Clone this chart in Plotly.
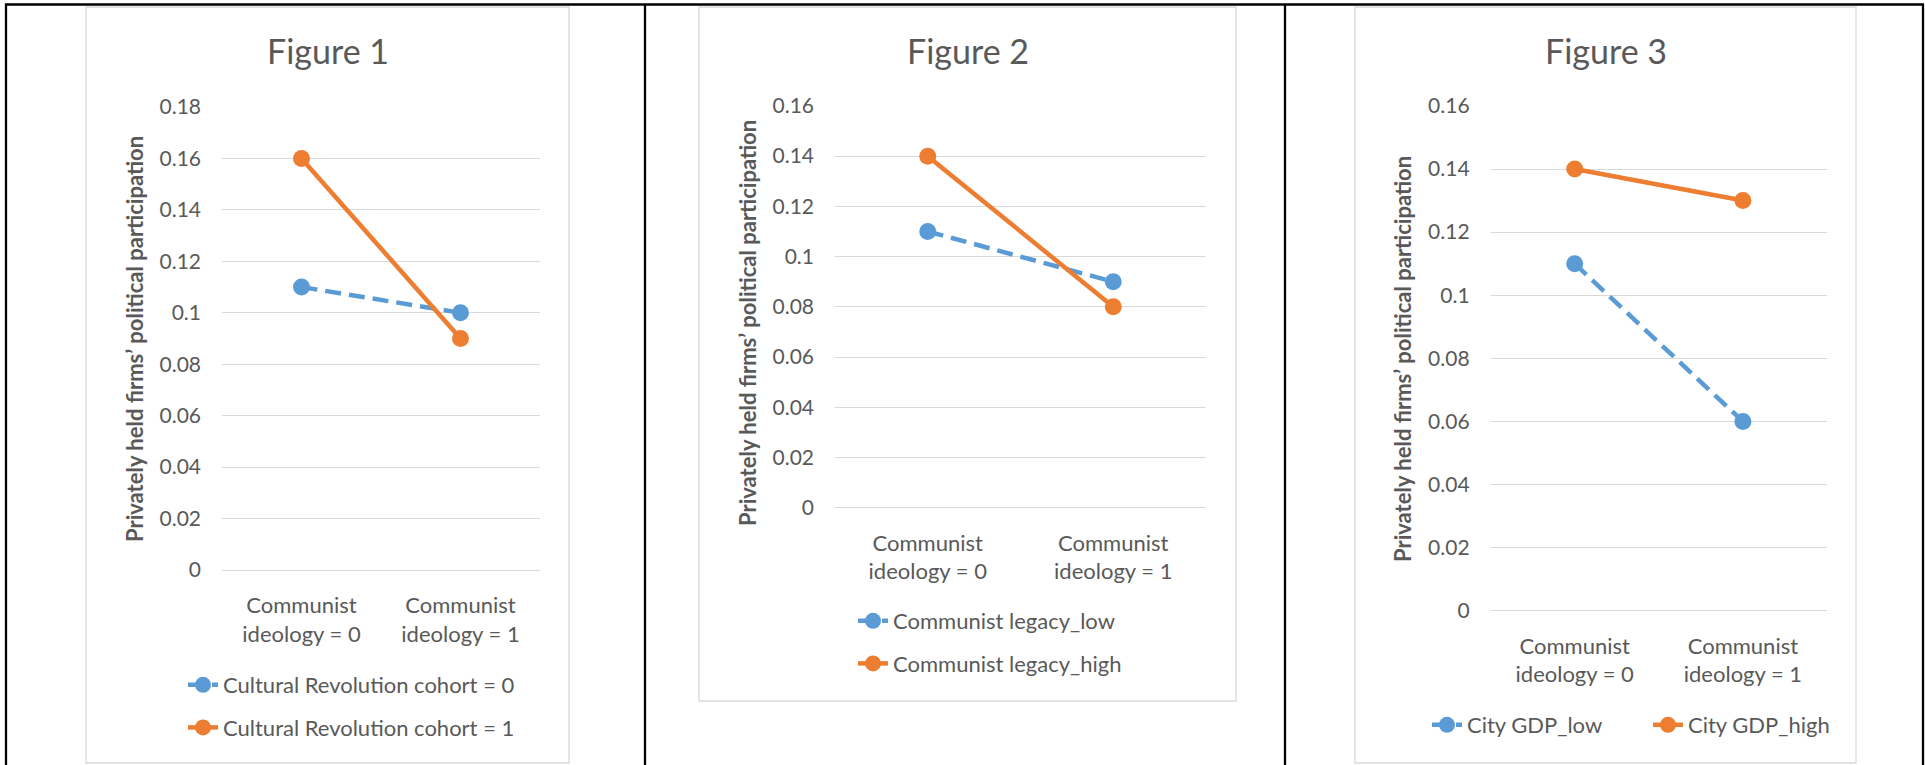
import plotly.graph_objects as go

# ---------------- data ----------------
categories = ["Communist<br>ideology = 0", "Communist<br>ideology = 1"]

fig1_title = "Figure 1"
fig1_names = ["Cultural Revolution cohort = 0", "Cultural Revolution cohort = 1"]
fig1_low = [0.11, 0.10]
fig1_high = [0.16, 0.09]

fig2_title = "Figure 2"
fig2_names = ["Communist legacy_low", "Communist legacy_high"]
fig2_low = [0.11, 0.09]
fig2_high = [0.14, 0.08]

fig3_title = "Figure 3"
fig3_names = ["City GDP_low", "City GDP_high"]
fig3_low = [0.11, 0.06]
fig3_high = [0.14, 0.13]

y_tickvals_1 = [0, 0.02, 0.04, 0.06, 0.08, 0.10, 0.12, 0.14, 0.16, 0.18]
y_ticktext_1 = ["0", "0.02", "0.04", "0.06", "0.08", "0.1", "0.12", "0.14", "0.16", "0.18"]
y_tickvals_2 = [0, 0.02, 0.04, 0.06, 0.08, 0.10, 0.12, 0.14, 0.16]
y_ticktext_2 = ["0", "0.02", "0.04", "0.06", "0.08", "0.1", "0.12", "0.14", "0.16"]

y_title = "Privately held firms\u2019 political participation"

# ---------------- style ----------------
W, H = 1925, 765
BLUE = "#5B9BD5"
ORANGE = "#ED7D31"
GRID = "#D9D9D9"
TXT = "#595959"
FONT = "Lato"


def px(x):
    return x / W


def py(y):
    return 1 - y / H


fig = go.Figure()

panels = [
    dict(names=fig1_names, low=fig1_low, high=fig1_high, title=fig1_title,
         xdom=(222, 540), ydom=(570, 107), yr=0.18, tv=y_tickvals_1, tt=y_ticktext_1,
         tcx=327.5, atx=134, aty=339, legends=("legend", "legend")),
    dict(names=fig2_names, low=fig2_low, high=fig2_high, title=fig2_title,
         xdom=(835, 1206), ydom=(507.8, 105.9), yr=0.16, tv=y_tickvals_2, tt=y_ticktext_2,
         tcx=967.5, atx=747, aty=323, legends=("legend2", "legend2")),
    dict(names=fig3_names, low=fig3_low, high=fig3_high, title=fig3_title,
         xdom=(1490.6, 1827), ydom=(610.8, 105.9), yr=0.16, tv=y_tickvals_2, tt=y_ticktext_2,
         tcx=1606, atx=1402, aty=359, legends=("legend3", "legend4")),
]

annotations = []
for i, p in enumerate(panels):
    n = "" if i == 0 else str(i + 1)
    xa, ya = "x" + n, "y" + n
    fig.add_trace(go.Scatter(
        x=categories, y=p["low"], name=p["names"][0], mode="lines+markers",
        line=dict(color=BLUE, width=4.5, dash="16px,8px"),
        marker=dict(color=BLUE, size=17), xaxis=xa, yaxis=ya,
        legend=p["legends"][0], legendgroup="g%da" % i))
    fig.add_trace(go.Scatter(
        x=categories, y=p["high"], name=p["names"][1], mode="lines+markers",
        line=dict(color=ORANGE, width=4.5),
        marker=dict(color=ORANGE, size=17), xaxis=xa, yaxis=ya,
        legend=p["legends"][1], legendgroup="g%db" % i))

    fig.layout["xaxis" + n] = dict(
        domain=[px(p["xdom"][0]), px(p["xdom"][1])], anchor=ya, type="category",
        range=[-0.5, 1.5], showgrid=False, showline=False, zeroline=False, automargin=False,
        ticks="", tickfont=dict(family=FONT, size=22, color=TXT), ticklabelstandoff=20,
        fixedrange=True)
    fig.layout["yaxis" + n] = dict(
        domain=[py(p["ydom"][0]), py(p["ydom"][1])], anchor=xa, range=[0, p["yr"]],
        tickvals=p["tv"], ticktext=p["tt"], showgrid=True, gridcolor=GRID, gridwidth=1.3,
        zeroline=True, zerolinecolor=GRID, zerolinewidth=1.3, showline=False, ticks="",
        automargin=False, tickfont=dict(family=FONT, size=21, color=TXT),
        ticklabelstandoff=20, fixedrange=True)

    annotations.append(dict(
        text=p["title"], x=px(p["tcx"]), y=py(51), xref="paper", yref="paper",
        showarrow=False, xanchor="center", yanchor="middle",
        font=dict(family=FONT, size=34, color=TXT)))
    annotations.append(dict(
        text="<b>" + y_title + "</b>", x=px(p["atx"]), y=py(p["aty"]), xref="paper",
        yref="paper", showarrow=False, textangle=-90, xanchor="center", yanchor="middle",
        font=dict(family=FONT, size=22, color=TXT)))

legend_common = dict(font=dict(family=FONT, size=22, color=TXT), bgcolor="rgba(0,0,0,0)",
                     borderwidth=0, xanchor="left", yanchor="top", itemsizing="trace",
                     traceorder="grouped")

shapes = []
# chart frames (light grey)
for (x0, x1, y0, y1) in [(86, 569, 7, 763), (699, 1236, 7, 701), (1355, 1856, 7, 763)]:
    shapes.append(dict(type="rect", xref="paper", yref="paper", x0=px(x0), x1=px(x1),
                       y0=py(y1), y1=py(y0), line=dict(color=GRID, width=1.3),
                       fillcolor="rgba(0,0,0,0)", layer="below"))
# table borders (black)
shapes.append(dict(type="line", xref="paper", yref="paper", x0=px(5), x1=px(1924),
                   y0=py(4.5), y1=py(4.5), line=dict(color="black", width=2.5)))
for xv in [6, 645, 1285, 1923]:
    shapes.append(dict(type="line", xref="paper", yref="paper", x0=px(xv), x1=px(xv),
                       y0=py(4), y1=py(766), line=dict(color="black", width=2.3)))

fig.update_layout(
    width=W, height=H, margin=dict(l=0, r=0, t=0, b=0, autoexpand=False),
    paper_bgcolor="white", plot_bgcolor="white",
    font=dict(family=FONT, color=TXT),
    showlegend=True,
    legend=dict(x=px(183), y=py(664), orientation="v", tracegroupgap=11, **legend_common),
    legend2=dict(x=px(853), y=py(600), orientation="v", tracegroupgap=11, **legend_common),
    legend3=dict(x=px(1427), y=py(704), orientation="v", **legend_common),
    legend4=dict(x=px(1648), y=py(704), orientation="v", **legend_common),
    annotations=annotations, shapes=shapes,
)

fig.write_html("out.html", config={"displayModeBar": False},
               post_script="document.body.style.margin='0';")
